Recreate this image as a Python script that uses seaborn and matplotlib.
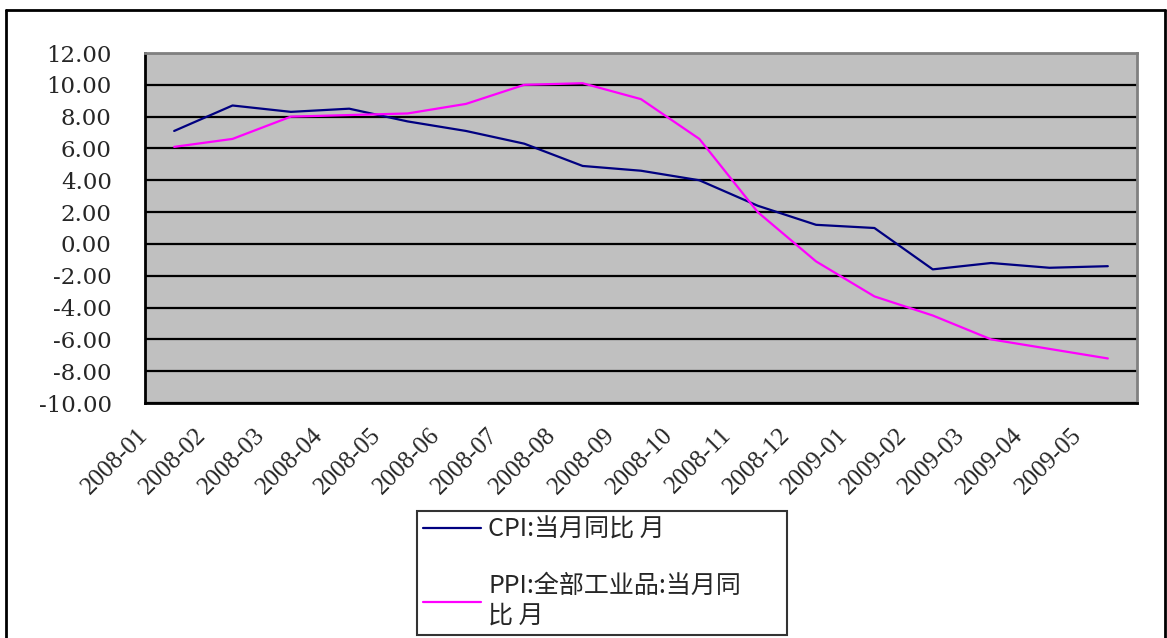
import numpy as np
import pandas as pd
import seaborn as sns
import matplotlib
matplotlib.use("Agg")
import matplotlib.pyplot as plt
from matplotlib.lines import Line2D
from matplotlib.transforms import ScaledTranslation

MONTHS = ['2008-01', '2008-02', '2008-03', '2008-04', '2008-05', '2008-06',
          '2008-07', '2008-08', '2008-09', '2008-10', '2008-11', '2008-12',
          '2009-01', '2009-02', '2009-03', '2009-04', '2009-05']
CPI = [7.1, 8.7, 8.3, 8.5, 7.7, 7.1, 6.3, 4.9, 4.6, 4.0, 2.4, 1.2,
       1.0, -1.6, -1.2, -1.5, -1.4]
PPI = [6.1, 6.6, 8.0, 8.1, 8.2, 8.8, 10.0, 10.1, 9.1, 6.6, 2.0, -1.1,
       -3.3, -4.5, -6.0, -6.6, -7.2]
CPI_NAME = 'CPI:当月同比 月'
PPI_NAME = 'PPI:全部工业品:当月同比 月'
LEGEND_LABELS = ['CPI:当月同比 月', 'PPI:全部工业品:当月同\n比 月']
Y_TICKS = [-10, -8, -6, -4, -2, 0, 2, 4, 6, 8, 10, 12]

sns.set_style("white")

W, H = 1167, 638
fig = plt.figure(figsize=(W / 100, H / 100), dpi=100)
ax = fig.add_axes([145 / W, 1 - 403 / H, (1137 - 145) / W, (403 - 53) / H])
ax.set_facecolor('#C0C0C0')

df = pd.DataFrame({
    'pos': list(range(len(MONTHS))) * 2,
    'value': CPI + PPI,
    'series': [CPI_NAME] * len(MONTHS) + [PPI_NAME] * len(MONTHS),
})
sns.lineplot(data=df, x='pos', y='value', hue='series', sort=False,
             palette={CPI_NAME: '#000080', PPI_NAME: '#FF00FF'},
             linewidth=1.6, ax=ax, zorder=3)

ax.set_xlim(-0.5, len(MONTHS) - 0.5)
ax.set_ylim(-10, 12)
ax.set_xlabel('')
ax.set_ylabel('')

# horizontal gridlines
ax.set_yticks(Y_TICKS)
ax.set_yticklabels(['%.2f' % v for v in Y_TICKS])
ax.yaxis.grid(True, color='black', linewidth=1.6)
ax.set_axisbelow(True)
ax.tick_params(axis='y', direction='in', length=5, width=1.5, pad=24, color='black')

# category ticks at boundaries, labels at centres
ax.set_xticks(np.arange(-0.5, len(MONTHS), 1.0), minor=True)
ax.set_xticks(range(len(MONTHS)))
ax.set_xticklabels(MONTHS)
ax.tick_params(axis='x', which='major', length=0, pad=15)
ax.tick_params(axis='x', which='minor', direction='in', length=5, width=1.5, color='black')

plt.setp(ax.get_yticklabels(), family='DejaVu Serif', fontsize=16.5)
shift = ScaledTranslation(-0.22, 0, fig.dpi_scale_trans)
for lab in ax.get_xticklabels():
    lab.set_fontfamily('Liberation Serif')
    lab.set_fontsize(18)
    lab.set_rotation(45)
    lab.set_ha('right')
    lab.set_va('top')
    lab.set_transform(lab.get_transform() + shift)

for side in ['left', 'bottom']:
    ax.spines[side].set_color('black')
    ax.spines[side].set_linewidth(2)
for side in ['top', 'right']:
    ax.spines[side].set_color('#808080')
    ax.spines[side].set_linewidth(2)
    ax.spines[side].set_visible(True)

handles, _ = ax.get_legend_handles_labels()
ax.get_legend().remove()
leg = fig.legend(handles, LEGEND_LABELS, loc='lower left',
                 bbox_to_anchor=(417 / W, 3 / H, (787 - 417) / W, (635 - 512) / H),
                 mode='expand', frameon=True, fancybox=False, handlelength=2.3,
                 handletextpad=0.3, labelspacing=1.2, borderaxespad=0,
                 borderpad=0.25,
                 prop={'family': ['Noto Sans CJK SC', 'DejaVu Sans'], 'size': 18})
leg.get_frame().set_edgecolor('black')
leg.get_frame().set_linewidth(1.5)
for line in leg.get_lines():
    line.set_linewidth(1.6)

# outer chart border
bx0, bx1, by0 = 6 / W, 1165 / W, 1 - 10 / H
fig.add_artist(Line2D([bx0, bx0], [0, by0], color='black', linewidth=2))
fig.add_artist(Line2D([bx0, bx1], [by0, by0], color='black', linewidth=2))
fig.add_artist(Line2D([bx1, bx1], [0, by0], color='black', linewidth=2))

fig.savefig('out.png', dpi=100, facecolor='white')
